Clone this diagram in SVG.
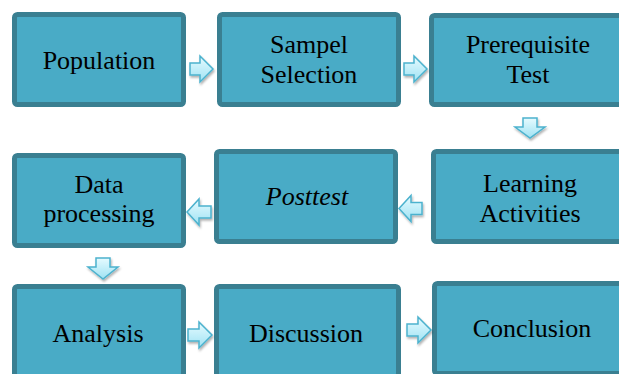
<svg xmlns="http://www.w3.org/2000/svg" width="619" height="374" viewBox="0 0 619 374">
<style>
.box{fill:#49abc6;stroke:#3a7f91;stroke-width:5;}
.t{font-family:"Liberation Serif",Tinos,"Times New Roman",Times,"Noto Serif","DejaVu Serif",FreeSerif,Georgia,serif;font-size:26px;fill:#000;text-anchor:middle;}
.arr{fill:url(#ag);stroke:#4cb2ce;stroke-width:1.5;stroke-linejoin:miter;filter:url(#sh);}
</style>
<defs>
<linearGradient id="ag" x1="0" y1="0" x2="0" y2="1">
<stop offset="0" stop-color="#e6fbff"/>
<stop offset="1" stop-color="#9fe2f3"/>
</linearGradient>
<filter id="sh" x="-30%" y="-30%" width="160%" height="160%">
<feDropShadow dx="1" dy="2" stdDeviation="1.2" flood-color="#000" flood-opacity="0.3"/>
</filter>
</defs>
<g id="n1"><rect class="box" x="14.5" y="14.5" width="169" height="90" rx="3"/><text class="t" x="99" y="69">Population</text></g>
<g id="n2"><rect class="box" x="219.5" y="14.5" width="179" height="90" rx="3"/><text class="t" x="309" y="53">Sampel</text><text class="t" x="309" y="83">Selection</text></g>
<g id="n3"><rect class="box" x="431.5" y="15.5" width="193" height="89" rx="3"/><text class="t" x="528" y="53">Prerequisite</text><text class="t" x="528" y="83">Test</text></g>
<g id="n4"><rect class="box" x="14.5" y="155.5" width="169" height="90" rx="3"/><text class="t" x="99" y="193">Data</text><text class="t" x="99" y="222">processing</text></g>
<g id="n5"><rect class="box" x="216.5" y="151.5" width="179" height="90" rx="3"/><text class="t" x="307" y="205" font-style="italic">Posttest</text></g>
<g id="n6"><rect class="box" x="433.5" y="151.5" width="193" height="90" rx="3"/><text class="t" x="530" y="192">Learning</text><text class="t" x="530" y="222">Activities</text></g>
<g id="n7"><rect class="box" x="14.5" y="286.5" width="169" height="90" rx="3"/><text class="t" x="98" y="342">Analysis</text></g>
<g id="n8"><rect class="box" x="216.5" y="286.5" width="182" height="90" rx="3"/><text class="t" x="306" y="342">Discussion</text></g>
<g id="n9"><rect class="box" x="434.5" y="283.5" width="193" height="90" rx="3"/><text class="t" x="532" y="337">Conclusion</text></g>
<g id="connectors">
<path class="arr" d="M190,63 H200 V56 L213,69 L200,82 V75 H190 Z"/>
<path class="arr" d="M404,63 H414 V56 L427,69 L414,82 V75 H404 Z"/>
<path class="arr" d="M523,118 H537 V127 H545 L530,138 L515,127 H523 Z"/>
<path class="arr" d="M422,202.5 H411 V195.5 L399,208.5 L411,221.5 V214.5 H422 Z"/>
<path class="arr" d="M211,206 H199 V199 L187,212 L199,225 V218 H211 Z"/>
<path class="arr" d="M96,258 H110 V267 H118 L103,279 L88,267 H96 Z"/>
<path class="arr" d="M188,329 H199 V322 L212,335 L199,348 V341 H188 Z"/>
<path class="arr" d="M407,324 H418 V317 L431,330 L418,343 V336 H407 Z"/>
</g>
</svg>
